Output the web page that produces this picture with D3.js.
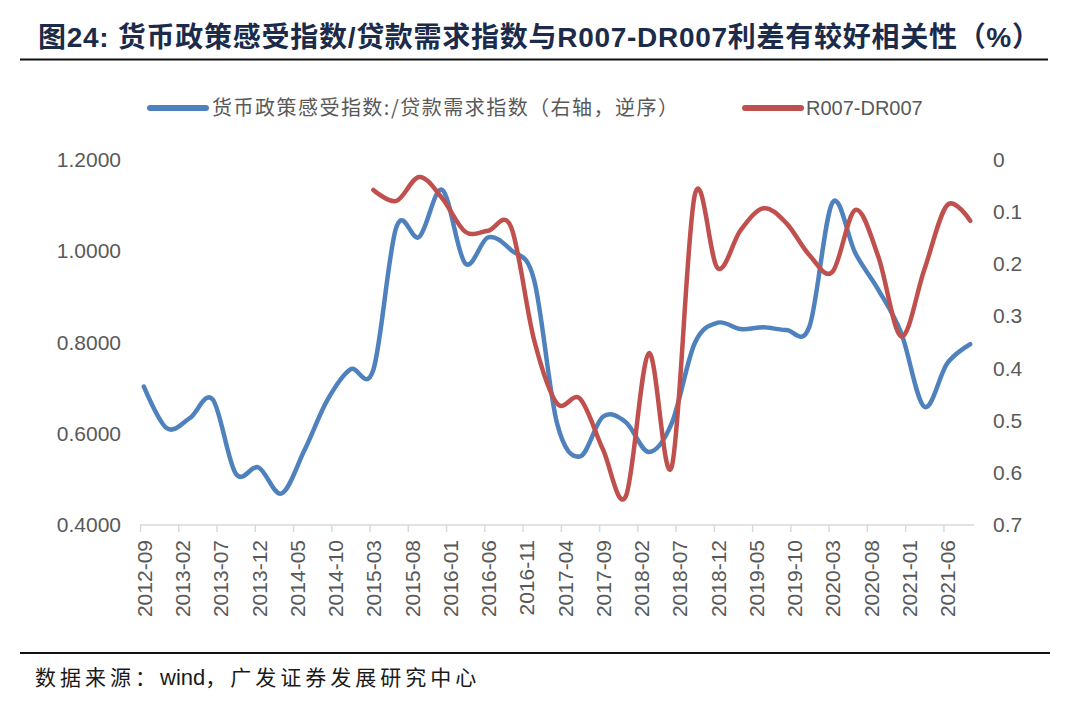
<!DOCTYPE html>
<html><head><meta charset="utf-8">
<script src="https://cdn.jsdelivr.net/npm/d3@7"></script>
<style>body{margin:0;background:#fff}</style></head>
<body><svg id="c" width="1080" height="715"></svg>
<script>
// ---- data ----
const quarters = ["2012-09","2012-12","2013-03","2013-06","2013-09","2013-12","2014-03","2014-06","2014-09","2014-12",
  "2015-03","2015-06","2015-09","2015-12","2016-03","2016-06","2016-09","2016-12","2017-03","2017-06",
  "2017-09","2017-12","2018-03","2018-06","2018-09","2018-12","2019-03","2019-06","2019-09","2019-12",
  "2020-03","2020-06","2020-09","2020-12","2021-03","2021-06","2021-09"];
const policyLoanRatio = [0.703,0.612,0.634,0.675,0.513,0.526,0.469,0.564,0.674,0.741,
  0.740,1.052,1.031,1.134,0.973,1.030,1.002,0.937,0.623,0.550,
  0.637,0.625,0.560,0.623,0.798,0.843,0.829,0.833,0.827,0.835,
  1.106,0.995,0.915,0.820,0.659,0.754,0.796];
const spreadR007DR007 = [null,null,null,null,null,null,null,null,null,null,
  0.058,0.079,0.033,0.074,0.138,0.136,0.129,0.345,0.467,0.458,
  0.555,0.645,0.371,0.588,0.068,0.208,0.135,0.093,0.122,0.183,
  0.215,0.096,0.186,0.339,0.211,0.087,0.117];
const tickLabels = ["2012-09","2013-02","2013-07","2013-12","2014-05","2014-10","2015-03","2015-08","2016-01","2016-06",
  "2016-11","2017-04","2017-09","2018-02","2018-07","2018-12","2019-05","2019-10","2020-03","2020-08","2021-01","2021-06"];
const leftTicks = [0.4,0.6,0.8,1.0,1.2];
const rightTicks = [0,0.1,0.2,0.3,0.4,0.5,0.6,0.7];
const seriesNames = ["货币政策感受指数:/贷款需求指数（右轴，逆序）","R007-DR007"];
const firstMonth = "2012-09", lastMonth = "2021-09";

// ---- helpers ----
const mIndex = s => { const [y,m] = s.split("-").map(Number); const [y0,m0] = firstMonth.split("-").map(Number); return (y-y0)*12 + (m-m0); };
const nMonths = mIndex(lastMonth) + 1;

const svg = d3.select("#c");
svg.append("rect").attr("width",1080).attr("height",715).attr("fill","#fff");

const L = 140, R = 974, T = 159.7, B = 525;
const x = d3.scaleLinear().domain([0, nMonths]).range([L, R]);
const yL = d3.scaleLinear().domain([0.4, 1.2]).range([B, T]);
const yR = d3.scaleLinear().domain([0, 0.7]).range([T, B]);

const axisFont = "'Liberation Sans', Arial, sans-serif";
const cjkFont = "'Noto Sans CJK SC',sans-serif";
const grey = "#595959";

// title
svg.append("text").attr("x",38).attr("y",47)
  .attr("font-family","'Liberation Sans','Noto Sans CJK SC',sans-serif").attr("font-weight","bold")
  .attr("font-size",28).attr("fill","#1c2b4a")
  .attr("textLength",1002).attr("lengthAdjust","spacing")
  .text("图24: 货币政策感受指数/贷款需求指数与R007-DR007利差有较好相关性（%）");
svg.append("line").attr("x1",20).attr("x2",1048).attr("y1",59.5).attr("y2",59.5)
  .attr("stroke","#111").attr("stroke-width",2);

// legend
const lg = svg.append("g");
lg.append("line").attr("x1",150).attr("x2",206).attr("y1",108).attr("y2",108)
  .attr("stroke","#4F81BD").attr("stroke-width",6).attr("stroke-linecap","round");
lg.append("text").attr("x",212).attr("y",115).attr("font-family",cjkFont)
  .attr("font-size",20).attr("fill",grey)
  .attr("textLength",466).attr("lengthAdjust","spacing").text(seriesNames[0]);
lg.append("line").attr("x1",745).attr("x2",801).attr("y1",108).attr("y2",108)
  .attr("stroke","#C0504D").attr("stroke-width",6).attr("stroke-linecap","round");
lg.append("text").attr("x",806).attr("y",115).attr("font-family",axisFont)
  .attr("font-size",20).attr("fill",grey).text(seriesNames[1]);

// x axis
const tickIdx = tickLabels.map(mIndex);
const xAxis = d3.axisBottom(x).tickValues(tickIdx).tickSize(7).tickFormat((d,i)=>tickLabels[i]);
const gx = svg.append("g").attr("transform",`translate(0,${B})`).call(xAxis);
gx.select(".domain").attr("stroke","#d9d9d9").attr("stroke-width",1.5).attr("d",`M${L},0H${R}`);
gx.selectAll(".tick line").attr("stroke","#d9d9d9").attr("stroke-width",1.5);
gx.selectAll(".tick text").attr("font-family",axisFont).attr("font-size",21).attr("fill",grey)
  .attr("text-anchor","end").attr("dy","0.35em").attr("y",0)
  .attr("transform","translate(4,15) rotate(-90)");

// left axis
const gl = svg.append("g").attr("transform",`translate(121,0)`)
  .call(d3.axisLeft(yL).tickValues(leftTicks).tickSize(0).tickFormat(d3.format(".4f")));
gl.select(".domain").remove();
gl.selectAll(".tick text").attr("font-family",axisFont).attr("font-size",21).attr("fill",grey).attr("x",0);

// right axis
const gr = svg.append("g").attr("transform",`translate(993,0)`)
  .call(d3.axisRight(yR).tickValues(rightTicks).tickSize(0).tickFormat(d => d===0 ? "0" : d.toFixed(1)));
gr.select(".domain").remove();
gr.selectAll(".tick text").attr("font-family",axisFont).attr("font-size",21).attr("fill",grey).attr("x",0);

// lines
const pts = (vals) => quarters.map((q,i)=>({m: mIndex(q)+0.5, v: vals[i]}));
const lineL = d3.line().defined(d=>d.v!=null).x(d=>x(d.m)).y(d=>yL(d.v)).curve(d3.curveCardinal.tension(0));
const lineR = d3.line().defined(d=>d.v!=null).x(d=>x(d.m)).y(d=>yR(d.v)).curve(d3.curveCardinal.tension(0));
svg.append("path").attr("d", lineL(pts(policyLoanRatio))).attr("fill","none")
  .attr("stroke","#4F81BD").attr("stroke-width",4.5).attr("stroke-linejoin","round").attr("stroke-linecap","round");
svg.append("path").attr("d", lineR(pts(spreadR007DR007))).attr("fill","none")
  .attr("stroke","#C0504D").attr("stroke-width",4.5).attr("stroke-linejoin","round").attr("stroke-linecap","round");

// source
svg.append("line").attr("x1",20).attr("x2",1050).attr("y1",653).attr("y2",653)
  .attr("stroke","#111").attr("stroke-width",2);
const src = svg.append("text").attr("x",35).attr("y",685).attr("font-size",21).attr("fill","#1a1a1a");
src.append("tspan").attr("font-family",cjkFont).attr("letter-spacing",4).text("数据来源：");
src.append("tspan").attr("font-family",axisFont).attr("font-size",22).text("wind");
src.append("tspan").attr("font-family",cjkFont).attr("letter-spacing",4).text("，广发证券发展研究中心");
</script></body></html>
